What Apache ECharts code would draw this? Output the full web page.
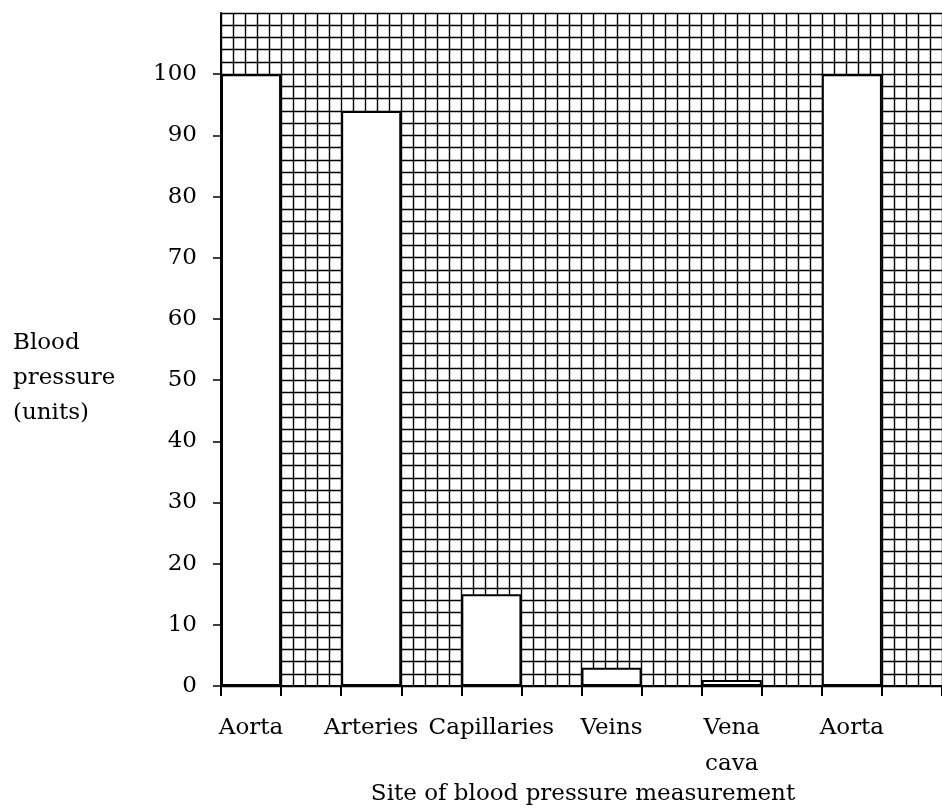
<!DOCTYPE html>
<html>
<head>
<meta charset="utf-8">
<script src="https://cdn.jsdelivr.net/npm/echarts@6/dist/echarts.min.js"></script>
<style>
html,body{margin:0;padding:0;background:#fff;}
#chart{width:942px;height:811px;}
</style>
</head>
<body>
<div id="chart"></div>
<script>
// Categories (one slot per bar plus an empty gap slot after each)
const categories = ['Aorta', '', 'Arteries', '', 'Capillaries', '', 'Veins', '', 'Vena\ncava', '', 'Aorta', ''];
// Blood pressure (units) for each slot; null = gap
const pressure = [100, null, 94, null, 15, null, 3, null, 1, null, 100, null];
// Y axis range and labelled ticks
const yMin = 0, yMax = 110, yStep = 10;
const yTickLabels = [0, 10, 20, 30, 40, 50, 60, 70, 80, 90, 100];
const yAxisTitle = 'Blood\npressure\n(units)';
const xAxisTitle = 'Site of blood pressure measurement';

const FONT = 'DejaVu Serif';
const GRIDLINE = { color: '#000', width: 1.4 };
const chart = echarts.init(document.getElementById('chart'));
chart.setOption({
  backgroundColor: '#fff',
  animation: false,
  grid: { left: 221, right: -2, top: 13, bottom: 125, containLabel: false },
  xAxis: [
    {
      type: 'category',
      data: categories,
      boundaryGap: true,
      axisLine: { show: true, lineStyle: { color: '#000', width: 2 } },
      axisTick: { show: true, interval: 0, length: 10, lineStyle: { color: '#000', width: 2 } },
      axisLabel: { interval: 0, color: '#000', fontFamily: FONT, fontSize: 23, lineHeight: 36, margin: 24 },
      splitLine: { show: false }
    },
    {
      type: 'value',
      min: 0, max: 12, interval: 0.2,
      position: 'bottom',
      axisLine: { show: false }, axisTick: { show: false }, axisLabel: { show: false },
      splitLine: { show: true, lineStyle: GRIDLINE }
    }
  ],
  yAxis: [
    {
      type: 'value',
      min: yMin, max: yMax, interval: yStep,
      axisLine: { show: true, lineStyle: { color: '#000', width: 2 } },
      axisTick: { show: true, length: 8, customValues: yTickLabels, lineStyle: { color: '#000', width: 1.5 } },
      axisLabel: {
        color: '#000', fontFamily: FONT, fontSize: 23, margin: 24,
        customValues: yTickLabels
      },
      splitLine: { show: false }
    },
    {
      type: 'value',
      min: yMin, max: yMax, interval: 2,
      position: 'right',
      axisLine: { show: false }, axisTick: { show: false }, axisLabel: { show: false },
      splitLine: { show: true, lineStyle: GRIDLINE }
    }
  ],
  series: [{
    type: 'bar',
    xAxisIndex: 0,
    yAxisIndex: 0,
    data: pressure,
    barWidth: '100%',
    itemStyle: { color: '#fff', borderColor: '#000', borderWidth: 2 },
    z: 5
  }],
  graphic: [
    {
      type: 'text', left: 13, top: 326,
      style: { text: yAxisTitle, fill: '#000', font: '23px "DejaVu Serif"', lineHeight: 35 }
    },
    {
      type: 'text', x: 583, y: 783,
      style: { text: xAxisTitle, fill: '#000', font: '23px "DejaVu Serif"', textAlign: 'center' }
    }
  ]
});
</script>
</body>
</html>
